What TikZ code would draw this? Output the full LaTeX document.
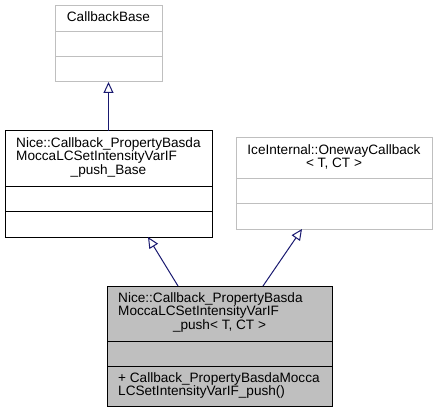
\documentclass[tikz,border=0pt]{standalone}
\usepackage{fontspec}
\setmainfont{Liberation Sans}
\usetikzlibrary{arrows.meta}
\definecolor{edgeblue}{HTML}{191970}
\definecolor{lightborder}{HTML}{BFBFBF}
\definecolor{classfill}{HTML}{BFBFBF}
\tikzset{
  umlbox/.style={draw=black, line width=1pt, inner sep=0pt, outer sep=0pt},
  extbox/.style={draw=lightborder, line width=1pt, inner sep=0pt, outer sep=0pt},
  txt/.style={inner sep=0pt, font=\fontsize{13.6}{13.5}\selectfont},
  lt/.style={txt, anchor=base west},
  ct/.style={txt, anchor=base},
  inh/.style={draw=edgeblue, line width=1pt, -{Triangle[open, length=11pt, width=10pt]}}
}
\begin{document}
\begin{tikzpicture}[x=1pt, y=-1pt]
\useasboundingbox (0,0) rectangle (437,412);
% CallbackBase
\node[extbox, minimum width=107pt, minimum height=76pt] (cb) at (108.5,44) {};
\draw[lightborder, line width=1pt] (cb.west |- 0,32) -- (cb.east |- 0,32);
\draw[lightborder, line width=1pt] (cb.west |- 0,57) -- (cb.east |- 0,57);
\node[ct] (cbt) at (108.5,22) {CallbackBase};
% Base class
\node[umlbox, minimum width=207pt, minimum height=106pt] (base) at (108.5,184) {};
\draw[line width=1pt] (base.west |- 0,186) -- (base.east |- 0,186);
\draw[line width=1pt] (base.west |- 0,211) -- (base.east |- 0,211);
\node[lt] (bt1) at (16,147) {Nice::Callback\_PropertyBasda};
\node[lt] (bt2) at (16,160.5) {MoccaLCSetIntensityVarIF};
\node[ct] (bt3) at (108.5,174) {\_push\_Base};
% IceInternal
\node[extbox, minimum width=196pt, minimum height=91pt] (ice) at (334,183.5) {};
\draw[lightborder, line width=1pt] (ice.west |- 0,178) -- (ice.east |- 0,178);
\draw[lightborder, line width=1pt] (ice.west |- 0,203) -- (ice.east |- 0,203);
\node[ct] (it1) at (334,154) {IceInternal::OnewayCallback};
\node[ct] (it2) at (334,167.5) {< T, CT >};
% Bottom class
\node[umlbox, fill=classfill, minimum width=225pt, minimum height=120pt] (bot) at (219.5,346) {};
\draw[line width=1pt] (bot.west |- 0,341) -- (bot.east |- 0,341);
\draw[line width=1pt] (bot.west |- 0,366) -- (bot.east |- 0,366);
\node[lt] (ct1) at (118,302) {Nice::Callback\_PropertyBasda};
\node[lt] (ct2) at (118,315.5) {MoccaLCSetIntensityVarIF};
\node[ct] (ct3) at (219.5,329) {\_push< T, CT >};
\node[lt] (cm1) at (118,382) {+ Callback\_PropertyBasdaMocca};
\node[lt] (cm2) at (118,395.5) {LCSetIntensityVarIF\_push()};
% Inheritance arrows
\draw[inh] (base.north) -- (cb.south);
\draw[inh] ([xshift=-41.5pt]bot.north) -- ([xshift=39.5pt]base.south);
\draw[inh] ([xshift=43.5pt]bot.north) -- ([xshift=-32pt]ice.south);
\end{tikzpicture}
\end{document}
